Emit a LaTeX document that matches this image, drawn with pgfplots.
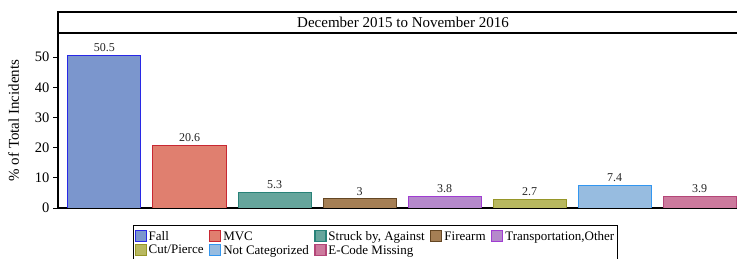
\documentclass[border=0pt]{standalone}
\usepackage{pgfplots}
\pgfplotsset{compat=1.18}
\usepackage{fontspec}
\setmainfont{Liberation Serif}
\definecolor{fallF}{RGB}{123,150,205}\definecolor{fallD}{RGB}{40,40,230}
\definecolor{mvcF}{RGB}{224,127,111}\definecolor{mvcD}{RGB}{200,40,50}
\definecolor{strF}{RGB}{102,165,156}\definecolor{strD}{RGB}{40,130,120}
\definecolor{fireF}{RGB}{165,127,85}\definecolor{fireD}{RGB}{100,70,35}
\definecolor{traF}{RGB}{181,137,203}\definecolor{traD}{RGB}{160,60,210}
\definecolor{cutF}{RGB}{184,184,96}\definecolor{cutD}{RGB}{150,150,40}
\definecolor{ncF}{RGB}{151,188,224}\definecolor{ncD}{RGB}{50,150,240}
\definecolor{ecF}{RGB}{204,122,157}\definecolor{ecD}{RGB}{180,70,120}
\begin{document}
\begin{tikzpicture}
\clip (-58bp,-51bp) rectangle (679bp,208bp);
\begin{axis}[
  at={(0,0)}, anchor=south west,
  scale only axis, width=679bp, height=175bp,
  xmin=-0.547, xmax=7.441, ymin=0, ymax=58,
  axis x line*=bottom, axis y line*=left,
  axis line style={line width=1.2bp, -},
  xtick=\empty,
  ytick={0,10,20,30,40,50},
  tick align=outside, major tick length=5bp,
  tick style={line width=1bp, black},
  /pgf/number format/assume math mode=true,
  yticklabel style={font=\fontsize{14.5bp}{16bp}\selectfont},
  ylabel={\% of Total Incidents},
  ylabel style={font=\fontsize{15bp}{17bp}\selectfont, at={(axis description cs:-0.052,0.5)}, anchor=south},
  ybar, bar shift=0pt, bar width=73bp,
  nodes near coords,
  nodes near coords style={font=\fontsize{12bp}{14bp}\selectfont, text=black!85},
  area legend,
  legend columns=5,
  legend style={at={(75bp,-17bp)}, anchor=north west, draw=black, line width=1bp,
    font=\fontsize{13bp}{14bp}\selectfont, inner xsep=1bp, inner ysep=4bp, row sep=-1bp,
    /tikz/every even column/.append style={column sep=3.5bp}},
  legend cell align=left,
  legend image code/.code={\draw[#1, line width=1.2bp] (0bp,-5bp) rectangle (11bp,6bp);},
]
\addplot[fill=fallF, draw=fallD, line width=1bp] coordinates {(0,50.5)};
\addlegendentry{Fall}
\addplot[fill=mvcF, draw=mvcD, line width=1bp] coordinates {(1,20.6)};
\addlegendentry{MVC}
\addplot[fill=strF, draw=strD, line width=1bp] coordinates {(2,5.3)};
\addlegendentry{Struck by,\ Against}
\addplot[fill=fireF, draw=fireD, line width=1bp] coordinates {(3,3)};
\addlegendentry{Firearm}
\addplot[fill=traF, draw=traD, line width=1bp] coordinates {(4,3.8)};
\addlegendentry{Transportation,Other}
\addplot[fill=cutF, draw=cutD, line width=1bp] coordinates {(5,2.7)};
\addlegendentry{Cut/Pierce}
\addplot[fill=ncF, draw=ncD, line width=1bp] coordinates {(6,7.4)};
\addlegendentry{Not Categorized}
\addplot[fill=ecF, draw=ecD, line width=1bp] coordinates {(7,3.9)};
\addlegendentry{E-Code Missing}
\end{axis}
\draw[line width=1.2bp] (0,175bp) -- (0,196bp) -- (700bp,196bp);
\draw[line width=2.2bp] (-0.6bp,175bp) -- (700bp,175bp);
\node[font=\fontsize{15bp}{17bp}\selectfont] at (345bp,185.5bp) {December 2015 to November 2016};
\end{tikzpicture}
\end{document}
